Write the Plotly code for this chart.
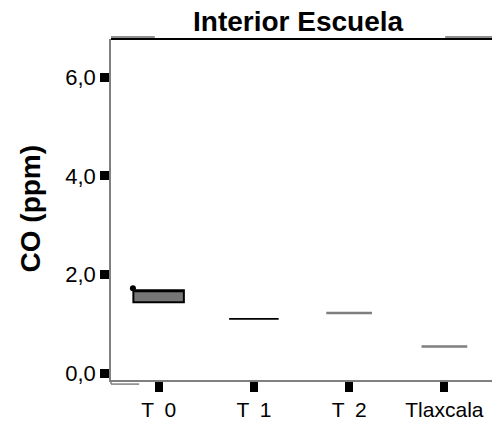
import plotly.graph_objects as go

# CO concentration inside the school, per sampling period
categories = ["T\u20020", "T\u20021", "T\u20022", "Tlaxcala"]
q1_vals = [1.44, 1.10, 1.22, 0.54]
median_vals = [1.68, 1.10, 1.22, 0.54]
q3_vals = [1.68, 1.10, 1.22, 0.54]
outlier_vals = [1.72]
y_tick_vals = [0, 2, 4, 6]

box_colors = ["#000000", "#000000", "#7f7f7f", "#7f7f7f"]
box_fills = ["#767676", "rgba(0,0,0,0)", "rgba(0,0,0,0)", "rgba(0,0,0,0)"]
box_widths = [0.53, 0.52, 0.48, 0.48]
line_widths = [2, 1.6, 2.4, 2.4]

FONT = "Liberation Sans, Arial, sans-serif"

fig = go.Figure()
positions = list(range(len(categories)))
for i, cat in enumerate(categories):
    fig.add_trace(go.Box(
        x=[positions[i]],
        q1=[q1_vals[i]], median=[median_vals[i]], q3=[q3_vals[i]],
        lowerfence=[q1_vals[i]], upperfence=[q3_vals[i]],
        width=box_widths[i],
        fillcolor=box_fills[i],
        line=dict(color=box_colors[i], width=line_widths[i]),
        boxpoints=False,
        hoverinfo="skip",
        name=cat,
    ))

# outlier marker of the first period, drawn at the box's left edge
fig.add_trace(go.Scatter(
    x=[positions[0] - 0.27], y=outlier_vals, mode="markers",
    marker=dict(color="#000000", size=6),
    hoverinfo="skip",
))

fig.update_layout(
    width=492, height=421,
    margin=dict(l=111, r=0, t=39, b=36),
    paper_bgcolor="white", plot_bgcolor="white",
    showlegend=False,
    separators=",.",
    font=dict(family=FONT, color="black"),
)

fig.update_xaxes(
    range=[-0.5, 3.5],
    tickvals=positions, ticktext=categories,
    showgrid=False, zeroline=False,
    showline=True, linecolor="#808080", linewidth=1.5,
    ticks="outside", ticklen=10, tickwidth=8, tickcolor="black",
    tickfont=dict(size=21, family=FONT),
)
fig.update_yaxes(
    range=[-0.14, 6.78],
    tickvals=y_tick_vals, tickformat=".1f",
    showgrid=False, zeroline=False,
    showline=True, linecolor="#808080", linewidth=1.5,
    ticks="outside", ticklen=9, tickwidth=9, tickcolor="black",
    tickfont=dict(size=22, family=FONT),
)

# frame details: top border with grey ends, small lower-left step
fig.add_shape(type="line", xref="paper", yref="paper", x0=0, x1=1, y0=1, y1=1,
              line=dict(color="black", width=2))
fig.add_shape(type="line", xref="paper", yref="paper", x0=0, x1=0.115, y0=1.006, y1=1.006,
              line=dict(color="#909090", width=2))
fig.add_shape(type="line", xref="paper", yref="paper", x0=0.877, x1=1, y0=1.006, y1=1.006,
              line=dict(color="#909090", width=2))
fig.add_shape(type="line", xref="paper", yref="paper", x0=0, x1=0.074, y0=-0.012, y1=-0.012,
              line=dict(color="#808080", width=1.5))
fig.add_shape(type="line", xref="paper", yref="paper", x0=0, x1=0, y0=-0.012, y1=0,
              line=dict(color="#808080", width=1.5))

fig.add_annotation(
    text="<b>Interior Escuela</b>", xref="paper", yref="paper",
    x=0.491, y=1.05, xanchor="center", yanchor="middle", showarrow=False,
    font=dict(size=28, family=FONT, color="black"),
)
fig.add_annotation(
    text="<b>CO (ppm)</b>", xref="paper", yref="paper",
    x=-0.2126, y=0.503, xanchor="center", yanchor="middle", showarrow=False,
    textangle=-90,
    font=dict(size=28, family=FONT, color="black"),
)

fig.write_html("out.html")
